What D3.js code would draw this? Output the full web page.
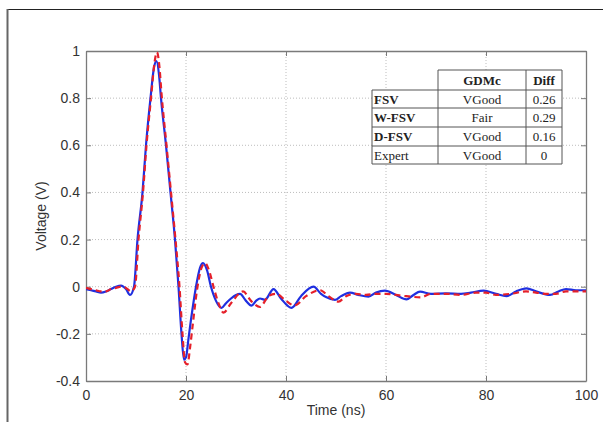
<!DOCTYPE html>
<html>
<head>
<meta charset="utf-8">
<script src="https://cdn.jsdelivr.net/npm/d3@7/dist/d3.min.js"></script>
<style>
  html, body { margin: 0; padding: 0; background: #fff; }
  svg { display: block; }
</style>
</head>
<body>
<svg id="chart" width="603" height="422"></svg>
<script>
// Measured waveform (blue, solid)
const measTime = [0,1,2,3,4,5,6,7,8,8.8,9.6,10.3,11.3,12,12.9,13.6,14.1,14.6,15,16,16.9,17.8,18.5,19.1,19.6,20,20.5,21,22,22.8,23.4,24.2,25,26,27.1,28,29,30,30.8,32,33.1,34,34.8,35.8,37.5,39,41.1,43,45.5,47,48.1,49.8,51,52.8,54.5,56.5,58,59.8,62,64.1,65.5,66.8,69,72,75,77,79.5,82,84.1,86,88.1,90,92.8,94.5,96,98,100];
const measVolt = [-0.01,-0.015,-0.02,-0.025,-0.02,-0.01,0.0,0.005,-0.01,-0.035,0.0,0.2,0.4,0.6,0.8,0.93,0.957,0.9,0.8,0.6,0.4,0.2,0.0,-0.2,-0.31,-0.3,-0.22,-0.14,0.0,0.08,0.1,0.07,0.0,-0.06,-0.09,-0.07,-0.05,-0.035,-0.03,-0.06,-0.08,-0.06,-0.05,-0.055,-0.01,-0.05,-0.09,-0.04,0.0,-0.03,-0.045,-0.056,-0.04,-0.025,-0.035,-0.042,-0.025,-0.017,-0.035,-0.054,-0.035,-0.021,-0.03,-0.028,-0.03,-0.025,-0.017,-0.03,-0.04,-0.02,-0.007,-0.02,-0.035,-0.02,-0.01,-0.015,-0.015];

// Simulated waveform (red, dashed)
const simTime = [0,1,2,3,4,5,6,7,8,9,9.8,10.5,11.4,12.1,13,13.7,14.2,14.7,15.1,16.1,17,17.9,18.7,19.3,19.8,20.3,20.8,21.3,22.3,23.1,23.8,24.6,25.5,26.5,27.5,29,31.4,33,34.8,36.5,38,40,41.7,44,46.8,48.5,50.5,52,54,56,58,60,62,64,67,69,72,75,78,80,82,85,88,90,92,94,96,98,100];
const simVolt = [-0.005,-0.01,-0.015,-0.02,-0.02,-0.01,-0.005,0.0,-0.005,-0.02,0.0,0.2,0.4,0.6,0.8,0.95,0.995,0.93,0.82,0.6,0.4,0.2,0.0,-0.2,-0.32,-0.33,-0.26,-0.17,0.0,0.08,0.1,0.07,0.0,-0.07,-0.11,-0.07,-0.02,-0.06,-0.086,-0.04,-0.03,-0.06,-0.08,-0.04,-0.015,-0.04,-0.063,-0.04,-0.03,-0.035,-0.03,-0.03,-0.035,-0.04,-0.045,-0.03,-0.03,-0.035,-0.025,-0.025,-0.035,-0.03,-0.02,-0.025,-0.03,-0.03,-0.02,-0.02,-0.02];

const xTicks = [0,20,40,60,80,100];
const yTicks = [-0.4,-0.2,0,0.2,0.4,0.6,0.8,1];

// Comparison table
const tableHead = ["", "GDMc", "Diff"];
const methods = ["FSV", "W-FSV", "D-FSV", "Expert"];
const grades = ["VGood", "Fair", "VGood", "VGood"];
const diffs = ["0.26", "0.29", "0.16", "0"];
const boldMethod = [true, true, true, false];

const svg = d3.select("#chart");
const W = 603, H = 422;
const m = { left: 86, right: 586, top: 51, bottom: 381 };

// Outer figure frame
svg.append("line").attr("x1", 7).attr("x2", W).attr("y1", 9.5).attr("y2", 9.5)
  .attr("stroke", "#222").attr("stroke-width", 1);
svg.append("line").attr("x1", 7.5).attr("x2", 7.5).attr("y1", 9).attr("y2", H)
  .attr("stroke", "#666").attr("stroke-width", 2);

const x = d3.scaleLinear().domain([0, 100]).range([m.left, m.right]);
const y = d3.scaleLinear().domain([-0.4, 1]).range([m.bottom, m.top]);

const g = svg.append("g");

// Dotted grid
g.append("g").selectAll("line").data(xTicks.slice(1, -1)).join("line")
  .attr("x1", d => x(d)).attr("x2", d => x(d))
  .attr("y1", m.top).attr("y2", m.bottom)
  .attr("stroke", "#bdbdbd").attr("stroke-width", 1).attr("stroke-dasharray", "1,2");
g.append("g").selectAll("line").data(yTicks.slice(1, -1)).join("line")
  .attr("x1", m.left).attr("x2", m.right)
  .attr("y1", d => y(d)).attr("y2", d => y(d))
  .attr("stroke", "#bdbdbd").attr("stroke-width", 1).attr("stroke-dasharray", "1,2");

// Axes with inward ticks
const fontFam = "'Liberation Sans', Arial, sans-serif";
const xAxis = g.append("g").attr("transform", `translate(0,${m.bottom})`)
  .call(d3.axisBottom(x).tickValues(xTicks).tickSizeInner(-5).tickSizeOuter(0).tickPadding(9)
    .tickFormat(d3.format("d")));
const xAxisTop = g.append("g").attr("transform", `translate(0,${m.top})`)
  .call(d3.axisTop(x).tickValues(xTicks).tickSizeInner(-5).tickSizeOuter(0).tickFormat(""));
const yAxis = g.append("g").attr("transform", `translate(${m.left},0)`)
  .call(d3.axisLeft(y).tickValues(yTicks).tickSizeInner(-5).tickSizeOuter(0).tickPadding(6)
    .tickFormat(d => d3.format("")(Math.round(d * 10) / 10)));
const yAxisRight = g.append("g").attr("transform", `translate(${m.right},0)`)
  .call(d3.axisRight(y).tickValues(yTicks).tickSizeInner(-5).tickSizeOuter(0).tickFormat(""));

[xAxis, xAxisTop, yAxis, yAxisRight].forEach(a => {
  a.select(".domain").attr("stroke", "#7a7a7a").attr("stroke-width", 1.3);
  a.selectAll(".tick line").attr("stroke", "#7a7a7a");
  a.selectAll("text").attr("font-family", fontFam).attr("font-size", 14).attr("fill", "#333");
});
yAxis.selectAll("text").text(d => d === 0 ? "0" : String(Math.round(d * 10) / 10).replace("-", "-"));

// Axis titles
svg.append("text").attr("x", (m.left + m.right) / 2).attr("y", 415)
  .attr("text-anchor", "middle").attr("font-family", fontFam).attr("font-size", 14).attr("fill", "#333")
  .text("Time (ns)");
svg.append("text").attr("transform", `translate(46,${(m.top + m.bottom) / 2}) rotate(-90)`)
  .attr("text-anchor", "middle").attr("font-family", fontFam).attr("font-size", 14).attr("fill", "#333")
  .text("Voltage (V)");

// Waveforms
const line = d3.line().x(d => x(d[0])).y(d => y(d[1])).curve(d3.curveMonotoneX);
const clip = svg.append("clipPath").attr("id", "plotclip").append("rect")
  .attr("x", m.left).attr("y", m.top - 4).attr("width", m.right - m.left).attr("height", m.bottom - m.top + 4);

const plot = svg.append("g").attr("clip-path", "url(#plotclip)");
plot.append("path").datum(d3.zip(measTime, measVolt)).attr("d", line)
  .attr("fill", "none").attr("stroke", "#1f2fe0").attr("stroke-width", 2.2).attr("stroke-linejoin", "round");
plot.append("path").datum(d3.zip(simTime, simVolt)).attr("d", line)
  .attr("fill", "none").attr("stroke", "#e5202a").attr("stroke-width", 2.2)
  .attr("stroke-dasharray", "6,4");

// Comparison table
const tb = svg.append("g").attr("font-family", "'Liberation Serif', 'Times New Roman', serif")
  .attr("font-size", 13).attr("fill", "#222");
const colX = [372, 438, 526, 562];
const rowY = [70, 90, 108, 127, 146, 164];
const stroke = "#555";

tb.append("rect").attr("x", colX[1]).attr("y", rowY[0]).attr("width", colX[3] - colX[1]).attr("height", rowY[1] - rowY[0]).attr("fill", "#fff");
tb.append("rect").attr("x", colX[0]).attr("y", rowY[1]).attr("width", colX[3] - colX[0]).attr("height", rowY[5] - rowY[1]).attr("fill", "#fff");

// Borders
const segs = [];
segs.push([colX[1], rowY[0], colX[3], rowY[0]]);
for (let r = 1; r < rowY.length; r++) segs.push([colX[0], rowY[r], colX[3], rowY[r]]);
segs.push([colX[0], rowY[1], colX[0], rowY[5]]);
for (let c = 1; c < colX.length; c++) segs.push([colX[c], rowY[0], colX[c], rowY[5]]);
tb.selectAll("line").data(segs).join("line")
  .attr("x1", d => d[0]).attr("y1", d => d[1]).attr("x2", d => d[2]).attr("y2", d => d[3])
  .attr("stroke", stroke).attr("stroke-width", 1);

// Header
tableHead.forEach((h, i) => {
  if (!h) return;
  tb.append("text").attr("x", (colX[i] + colX[i + 1]) / 2).attr("y", (rowY[0] + rowY[1]) / 2 + 4.5)
    .attr("text-anchor", "middle").attr("font-weight", "bold").text(h);
});
methods.forEach((mth, r) => {
  const cy = (rowY[r + 1] + rowY[r + 2]) / 2 + 4.5;
  tb.append("text").attr("x", colX[0] + 2).attr("y", cy)
    .attr("font-weight", boldMethod[r] ? "bold" : "normal").text(mth);
  tb.append("text").attr("x", (colX[1] + colX[2]) / 2).attr("y", cy).attr("text-anchor", "middle").text(grades[r]);
  tb.append("text").attr("x", (colX[2] + colX[3]) / 2).attr("y", cy).attr("text-anchor", "middle").text(diffs[r]);
});
</script>
</body>
</html>
